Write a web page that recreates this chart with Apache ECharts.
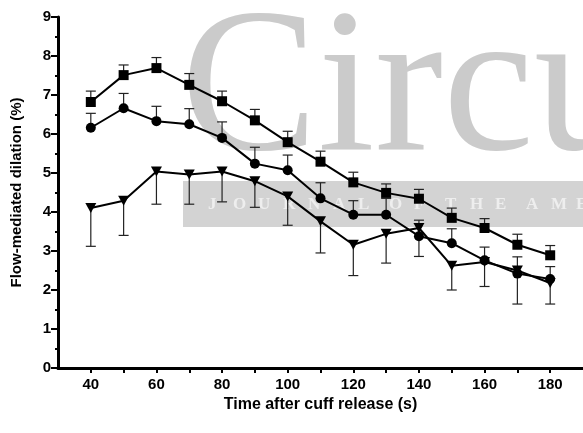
<!DOCTYPE html>
<html>
<head>
<meta charset="utf-8">
<script src="https://cdn.jsdelivr.net/npm/echarts@6/dist/echarts.min.js"></script>
<style>
html,body{margin:0;padding:0;background:#fff;}
#c{width:583px;height:433px;}
</style>
</head>
<body>
<div id="c"></div>
<script>
var times = [40, 50, 60, 70, 80, 90, 100, 110, 120, 130, 140, 150, 160, 170, 180];
var squareMean  = [6.82, 7.51, 7.69, 7.26, 6.84, 6.35, 5.79, 5.29, 4.76, 4.49, 4.34, 3.85, 3.59, 3.16, 2.89];
var squareUpper = [7.10, 7.77, 7.96, 7.55, 7.10, 6.63, 6.07, 5.56, 5.02, 4.72, 4.58, 4.10, 3.83, 3.43, 3.14];
var circleMean  = [6.16, 6.66, 6.33, 6.25, 5.90, 5.24, 5.07, 4.35, 3.93, 3.93, 3.38, 3.20, 2.76, 2.42, 2.28];
var circleUpper = [6.53, 7.04, 6.71, 6.65, 6.31, 5.66, 5.46, 4.75, 4.29, 4.35, 3.79, 3.57, 3.10, 2.85, 2.60];
var triMean     = [4.10, 4.29, 5.04, 4.96, 5.04, 4.79, 4.40, 3.76, 3.16, 3.44, 3.59, 2.62, 2.72, 2.50, 2.18];
var triLower    = [3.12, 3.40, 4.20, 4.20, 4.26, 4.12, 3.66, 2.95, 2.37, 2.69, 2.86, 2.00, 2.09, 1.64, 1.64];
var xTickValues  = [40, 50, 60, 70, 80, 90, 100, 110, 120, 130, 140, 150, 160, 170, 180];
var xLabelValues = [40, 60, 80, 100, 120, 140, 160, 180];
var watermarkWord = 'Circu';
var watermarkBand = 'JOURNAL OF THE AME';

function pairs(xs, ys) { return xs.map(function (x, i) { return [x, ys[i]]; }); }
function errData(xs, a, b) { return xs.map(function (x, i) { return [x, a[i], b[i]]; }); }

function errRender(params, api) {
  var x = api.value(0);
  var p1 = api.coord([x, api.value(1)]);
  var p2 = api.coord([x, api.value(2)]);
  var hw = 5;
  var st = { stroke: '#222', lineWidth: 1.2 };
  return {
    type: 'group',
    children: [
      { type: 'line', shape: { x1: p1[0], y1: p1[1], x2: p2[0], y2: p2[1] }, style: st },
      { type: 'line', shape: { x1: p2[0] - hw, y1: p2[1], x2: p2[0] + hw, y2: p2[1] }, style: st }
    ]
  };
}

// watermark letters (decorative background)
var graphics = [
  { type: 'text', z: -10, left: 181, top: -7, silent: true,
    style: { text: watermarkWord, font: '205px "Liberation Serif", "Times New Roman", serif', fill: '#cbcbcb' } },
  { type: 'rect', z: -10, silent: true, shape: { x: 183, y: 181, width: 400, height: 46 },
    style: { fill: '#d3d3d3' } }
];
var bx = 208;
for (var k = 0; k < watermarkBand.length; k++) {
  var ch = watermarkBand[k];
  if (ch === ' ') { bx += 6; continue; }
  graphics.push({ type: 'text', z: -9, silent: true, left: bx, top: 196,
    style: { text: ch, font: 'bold 17px "Liberation Serif", serif', fill: '#eeeeee' } });
  bx += 25;
}

var chart = echarts.init(document.getElementById('c'), null, { renderer: 'canvas' });
var font = 'Liberation Sans';
var option = {
  animation: false,
  backgroundColor: '#fff',
  graphic: graphics,
  grid: { left: 58, right: 0, top: 17, bottom: 65, containLabel: false },
  xAxis: {
    type: 'value', min: 30, max: 190, interval: 10,
    name: 'Time after cuff release (s)', nameLocation: 'middle', nameGap: 27,
    nameTextStyle: { fontFamily: font, fontWeight: 'bold', fontSize: 16, color: '#000' },
    axisLine: { show: true, lineStyle: { color: '#000', width: 3 } },
    axisTick: { show: true, length: 5, lineStyle: { color: '#000', width: 2 }, customValues: xTickValues },
    axisLabel: { show: true, margin: 9, fontFamily: font, fontWeight: 'bold', fontSize: 15, color: '#000', customValues: xLabelValues },
    splitLine: { show: false }
  },
  yAxis: {
    type: 'value', min: 0, max: 9, interval: 1,
    name: 'Flow-mediated dilation (%)', nameLocation: 'middle', nameGap: 34,
    nameTextStyle: { fontFamily: font, fontWeight: 'bold', fontSize: 15, color: '#000' },
    axisLine: { show: true, lineStyle: { color: '#000', width: 3 } },
    axisTick: { show: true, length: 7, lineStyle: { color: '#000', width: 2 } },
    minorTick: { show: true, splitNumber: 2, length: 3, lineStyle: { color: '#000', width: 2 } },
    axisLabel: { margin: 7, fontFamily: font, fontWeight: 'bold', fontSize: 15, color: '#000' },
    splitLine: { show: false }
  },
  series: [
    { type: 'custom', renderItem: errRender, data: errData(times, squareMean, squareUpper), z: 3, silent: true },
    { type: 'custom', renderItem: errRender, data: errData(times, circleMean, circleUpper), z: 3, silent: true },
    { type: 'custom', renderItem: errRender, data: errData(times, triMean, triLower), z: 3, silent: true },
    { type: 'line', data: pairs(times, squareMean), symbol: 'rect', symbolSize: 10,
      lineStyle: { color: '#000', width: 2 }, itemStyle: { color: '#000' }, z: 5 },
    { type: 'line', data: pairs(times, circleMean), symbol: 'circle', symbolSize: 10,
      lineStyle: { color: '#000', width: 2 }, itemStyle: { color: '#000' }, z: 5 },
    { type: 'line', data: pairs(times, triMean), symbol: 'triangle', symbolRotate: 180, symbolSize: [11, 10],
      lineStyle: { color: '#000', width: 2 }, itemStyle: { color: '#000' }, z: 5 }
  ]
};
chart.setOption(option);
</script>
</body>
</html>
